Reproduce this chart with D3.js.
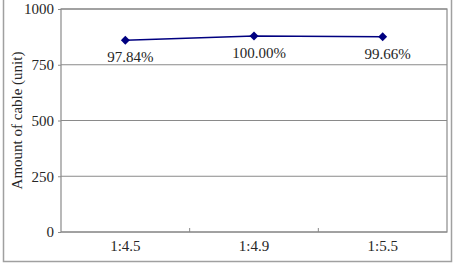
<!DOCTYPE html>
<html>
<head>
<meta charset="utf-8">
<script src="https://cdn.jsdelivr.net/npm/d3@7"></script>
<style>
  body { margin: 0; background: #fff; }
</style>
</head>
<body>
<svg id="chart" width="459" height="274"></svg>
<script>
// chart data
const ratios = ["1:4.5", "1:4.9", "1:5.5"];
const cableAmount = [860, 879, 876];
const percentLabels = ["97.84%", "100.00%", "99.66%"];
const yTicks = [0, 250, 500, 750, 1000];

const font = "Liberation Serif";
const ink = "#262626";

const svg = d3.select("#chart");
const margin = { top: 9, right: 12, bottom: 42, left: 61 };
const width = 459 - margin.left - margin.right,
	height = 274 - margin.top - margin.bottom;

// outer frame
svg.append("rect")
	.attr("x", 3.5).attr("y", -2)
	.attr("width", 448).attr("height", 263.5)
	.attr("fill", "none").attr("stroke", "#a0a0a0").attr("stroke-width", 1.5);

const g = svg.append("g").attr("transform", `translate(${margin.left},${margin.top})`);

const x = d3.scaleBand().domain(ratios).range([0, width]);
const y = d3.scaleLinear().domain([0, 1000]).range([height, 0]);

// gridlines
g.selectAll(".grid")
	.data(yTicks)
	.enter()
	.append("line")
	.attr("x1", 0).attr("x2", width)
	.attr("y1", d => y(d)).attr("y2", d => y(d))
	.attr("stroke", "#8a8a8a").attr("stroke-width", 1);

// plot border
g.append("rect")
	.attr("width", width).attr("height", height)
	.attr("fill", "none").attr("stroke", "#8a8a8a").attr("stroke-width", 1.2);

// y axis
let yAxis = d3.axisLeft(y).tickValues(yTicks).tickSize(3).tickPadding(4).tickFormat(d3.format("d"));
g.append("g").call(yAxis)
	.attr("font-family", font).attr("font-size", 15)
	.call(a => a.select(".domain").remove())
	.call(a => a.selectAll("line").attr("stroke", "#8a8a8a"))
	.call(a => a.selectAll("text").attr("fill", ink));

// x axis, ticks between categories pointing inward
let xAxis = d3.axisBottom(x).tickSize(0).tickPadding(8);
g.append("g")
	.attr("transform", `translate(0,${height})`)
	.call(xAxis)
	.attr("font-family", font).attr("font-size", 15)
	.call(a => a.select(".domain").remove())
	.call(a => a.selectAll("text").attr("fill", ink));

g.selectAll(".xtick")
	.data(ratios.slice(1))
	.enter()
	.append("line")
	.attr("x1", d => x(d)).attr("x2", d => x(d))
	.attr("y1", height).attr("y2", height - 4)
	.attr("stroke", "#8a8a8a");

// y axis title
svg.append("text")
	.attr("transform", `translate(22,${margin.top + height / 2}) rotate(-90)`)
	.attr("text-anchor", "middle")
	.attr("font-family", font).attr("font-size", 15)
	.attr("fill", ink)
	.text("Amount of cable (unit)");

// series line
const cx = d => x(d) + x.bandwidth() / 2;
const line = d3.line()
	.x((d, i) => cx(ratios[i]))
	.y(d => y(d));

g.append("path")
	.datum(cableAmount)
	.attr("d", line)
	.attr("fill", "none")
	.attr("stroke", "#000080")
	.attr("stroke-width", 1.5);

g.selectAll(".marker")
	.data(cableAmount)
	.enter()
	.append("path")
	.attr("d", d3.symbol().type(d3.symbolSquare).size(40))
	.attr("transform", (d, i) => `translate(${cx(ratios[i])},${y(d)}) rotate(45)`)
	.attr("fill", "#000080");

// percentage labels
g.selectAll(".label")
	.data(cableAmount)
	.enter()
	.append("text")
	.attr("x", (d, i) => cx(ratios[i]) + 5)
	.attr("y", d => y(d) + 22)
	.attr("text-anchor", "middle")
	.attr("font-family", font).attr("font-size", 15)
	.attr("fill", ink)
	.text((d, i) => percentLabels[i]);
</script>
</body>
</html>
